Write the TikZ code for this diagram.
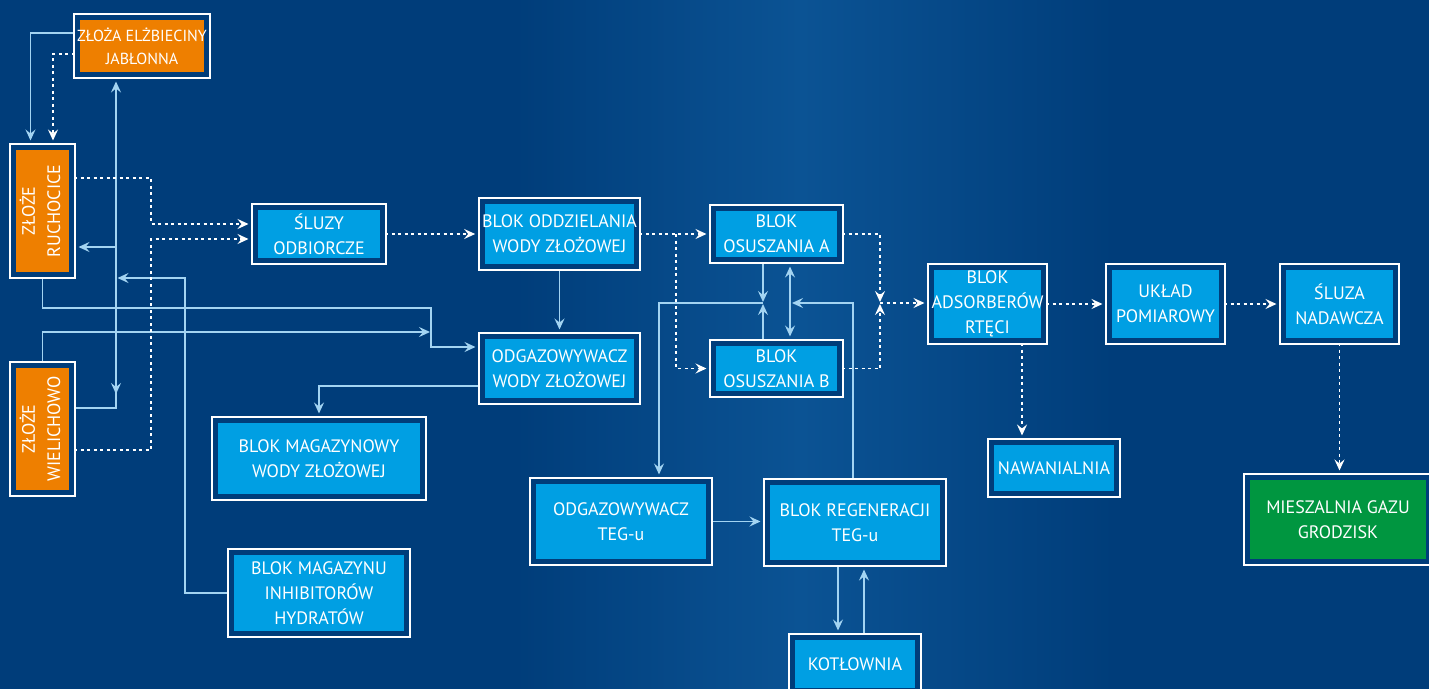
\documentclass[tikz,border=0pt]{standalone}
\usepackage{fontspec}
\setmainfont{PT Sans}
\usetikzlibrary{arrows.meta,shadings}
\definecolor{navy}{HTML}{003D7A}
\definecolor{navylight}{HTML}{0B5394}
\definecolor{boxblue}{HTML}{009FE3}
\definecolor{orng}{HTML}{EE7F00}
\definecolor{grn}{HTML}{009640}
\definecolor{lnc}{HTML}{A3D4F2}
\pgfdeclarehorizontalshading{bgsh}{100bp}{color(0bp)=(navy); color(25bp)=(navy); color(43bp)=(navy); color(53bp)=(navylight); color(64bp)=(navy); color(75bp)=(navy); color(100bp)=(navy)}
\pgfdeclarelayer{bg}
\pgfdeclarelayer{background}
\pgfsetlayers{bg,background,main}
\newcommand{\vtext}[1]{\rotatebox{90}{\begin{tabular}{@{}c@{}}#1\end{tabular}}}
\tikzset{
  box/.style={preaction={draw=white,line width=9pt},draw=navy,line width=5pt,fill=boxblue,
    inner sep=0pt,align=center,text=white,font=\fontsize{18}{25}\selectfont},
  obox/.style={box,fill=orng},
  gbox/.style={box,fill=grn},
  ln/.style={draw=lnc,line width=1.6pt},
  dl/.style={draw=white,line width=1.8pt,dash pattern=on 3pt off 3.5pt},
  tip/.style={-{Stealth[length=11pt,width=10pt,inset=4pt]}},
  tipb/.style={{Stealth[length=11pt,width=10pt,inset=4pt]}-{Stealth[length=11pt,width=10pt,inset=4pt]}},
  nd/.style={shorten >=4.5pt},
  ns/.style={shorten <=4.5pt},
}
\begin{document}
\begin{tikzpicture}[x=1pt,y=-1pt]
\useasboundingbox (0,0) rectangle (1429,688);
\clip (0,0) rectangle (1429,688);
\begin{pgfonlayer}{bg}
\shade[shading=bgsh] (0,0) rectangle (1429,688);
\end{pgfonlayer}

% nodes
\node[obox,minimum width=127pt,minimum height=57pt,font=\fontsize{16}{23}\selectfont] (zj) at (142,46) {ZŁOŻA ELŻBIECINY\\JABŁONNA};
\node[obox,minimum width=58pt,minimum height=127pt] (zr) at (42.5,211) {\vtext{ZŁOŻE\\RUCHOCICE}};
\node[obox,minimum width=58pt,minimum height=127pt] (zw) at (42.5,429) {\vtext{ZŁOŻE\\WIELICHOWO}};
\node[box,minimum width=127pt,minimum height=53pt] (sl) at (319,234) {ŚLUZY\\ODBIORCZE};
\node[box,minimum width=154pt,minimum height=65pt] (bo) at (559.5,234) {BLOK ODDZIELANIA\\WODY ZŁOŻOWEJ};
\node[box,minimum width=154pt,minimum height=64pt] (ow) at (559.5,368.5) {ODGAZOWYWACZ\\WODY ZŁOŻOWEJ};
\node[box,minimum width=207pt,minimum height=76pt] (bm) at (319,458.5) {BLOK MAGAZYNOWY\\WODY ZŁOŻOWEJ};
\node[box,minimum width=175pt,minimum height=81pt] (bi) at (319,593) {BLOK MAGAZYNU\\INHIBITORÓW\\HYDRATÓW};
\node[box,minimum width=126pt,minimum height=51pt] (oa) at (776.5,234) {BLOK\\OSUSZANIA A};
\node[box,minimum width=126pt,minimum height=50pt] (ob) at (776.5,368.5) {BLOK\\OSUSZANIA B};
\node[box,minimum width=175pt,minimum height=80pt] (ot) at (621,521.5) {ODGAZOWYWACZ\\TEG-u};
\node[box,minimum width=175pt,minimum height=80pt] (br) at (855,522.5) {BLOK REGENERACJI\\TEG-u};
\node[box,minimum width=125pt,minimum height=53pt] (ko) at (855,664) {KOTŁOWNIA};
\node[box,minimum width=112pt,minimum height=73pt] (ad) at (987.5,304) {BLOK\\ADSORBERÓW\\RTĘCI};
\node[box,minimum width=112pt,minimum height=73pt] (up) at (1165.5,304) {UKŁAD\\POMIAROWY};
\node[box,minimum width=112pt,minimum height=73pt] (sn) at (1339.5,304) {ŚLUZA\\NADAWCZA};
\node[box,minimum width=125pt,minimum height=51pt] (na) at (1054,468) {NAWANIALNIA};
\node[gbox,minimum width=181pt,minimum height=84pt] (mg) at (1338,519.5) {MIESZALNIA GAZU\\GRODZISK};

\coordinate (j1) at (116,394);
\coordinate (j2) at (116,247);
\coordinate (j3) at (117.5,278);
\coordinate (j4) at (431,308);
\coordinate (j5) at (430,332);
\coordinate (j6) at (880,303);
\coordinate (j7) at (763,303);
\coordinate (j8) at (792,303);

\begin{pgfonlayer}{background}
% solid connectors
\draw[ln,tip,nd] (zj.west |- 0,33) -| (zr.north -| 30.5,0);
\draw[ln,tip,nd] (zw.east |- 0,408) -| (zj.south -| 116,0);
\draw[ln,tip] (116,360) -- (j1);
\draw[ln,tip,nd] (j2) -- (zr.east |- j2);
\draw[ln,tip] (bi.west) -| (185,278) -- (j3);
\draw[ln,tip,nd] (zr.south) |- (j4) |- (ow.west |- 0,347);
\draw[ln,tip] (zw.north) |- (j5);
\draw[ln,tip,nd] (bo.south) -- (ow.north);
\draw[ln,tip,nd] (ow.west |- 0,386) -| (bm.north);
\draw[ln,tip] (oa.south -| j7) -- ([yshift=1pt]j7);
\draw[ln,tip] (ob.north -| j7) -- ([yshift=-1pt]j7);
\draw[ln,tip,nd] (j7) -- (659,303) -- (ot.north -| 659,0);
\draw[ln,tipb,nd,ns] (oa.south -| 790,0) -- (ob.north -| 790,0);
\draw[ln,tip] (br.north -| 853,0) |- (j8);
\draw[ln,tip,nd] (ot.east) -- (br.west |- ot.east);
\draw[ln,tip,nd] (br.south -| 838,0) -- (ko.north -| 838,0);
\draw[ln,tip,nd] (ko.north -| 864,0) -- (br.south -| 864,0);
% dotted connectors
\draw[dl,tip,nd] (zj.west |- 0,54) -| (zr.north -| 53,0);
\draw[dl,tip,nd] (zr.east |- 0,178) -| (151,224) -- (sl.west |- 0,224);
\draw[dl,tip,nd] (zw.east |- 0,450) -| (151,239) -- (sl.west |- 0,239);
\draw[dl,tip,nd] (sl.east) -- (bo.west);
\draw[dl,tip,nd] (bo.east) -- (oa.west);
\draw[dl,tip,nd] (676,234) |- (ob.west);
\draw[dl,tip] (oa.east) -| ([yshift=1pt]j6);
\draw[dl,tip] (ob.east) -| ([yshift=-1pt]j6);
\draw[dl,tip,nd] (j6) -- (ad.west |- j6);
\draw[dl,tip,nd] (ad.east) -- (up.west);
\draw[dl,tip,nd] (up.east) -- (sn.west);
\draw[dl,tip,nd] (ad.south -| 1022,0) -- (na.north -| 1022,0);
\draw[dl,tip,nd] (sn.south) -- (mg.north -| sn.south);
\end{pgfonlayer}
\end{tikzpicture}
\end{document}
